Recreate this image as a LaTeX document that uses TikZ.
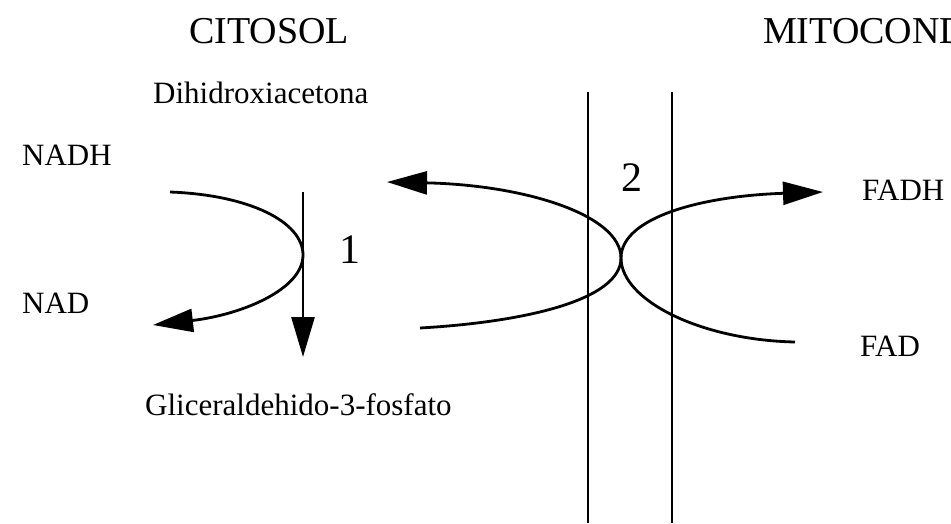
\documentclass[tikz,border=0pt]{standalone}
\usepackage{fontspec}
\setmainfont{Liberation Serif}
\usetikzlibrary{arrows.meta}
\begin{document}
\begin{tikzpicture}[x=1pt,y=-1pt,
  header/.style={inner sep=0pt,font=\fontsize{38}{40}\selectfont},
  lbl/.style={inner sep=0pt,font=\fontsize{31}{33}\selectfont},
  num/.style={inner sep=0pt,font=\fontsize{42}{44}\selectfont},
  rxn/.style={line width=2.8pt,-{Triangle[length=40pt,width=23pt]}},
  plain/.style={line width=2.8pt},
  memb/.style={line width=2pt}]
\useasboundingbox (0,0) rectangle (951,523);
\clip (0,0) rectangle (951,523);
% headers
\node[header] (cit) at (269,31) {CITOSOL};
\node[header,anchor=west] (mit) at (763,31) {MITOCONDRIA};
% labels
\node[lbl,anchor=west] (dha) at (153,93) {Dihidroxiacetona};
\node[lbl,anchor=west] (nadh) at (22,155) {NADH};
\node[lbl,anchor=west] (nad) at (22,303) {NAD};
\node[lbl,anchor=west] (g3p) at (145,405) {Gliceraldehido-3-fosfato};
\node[lbl,anchor=west] (fadh) at (862,190) {FADH};
\node[lbl,anchor=west] (fad) at (860,346) {FAD};
\node[num] (n1) at (350,250) {1};
\node[num] (n2) at (632,178) {2};
% membrane
\coordinate (m1t) at (588,92); \coordinate (m1b) at (588,523);
\coordinate (m2t) at (672,92); \coordinate (m2b) at (672,523);
\draw[memb] (m1t) -- (m1b);
\draw[memb] (m2t) -- (m2b);
% reaction 1
\coordinate (r1s) at (170,192);
\coordinate (r1v) at (303,255);
\coordinate (r1e) at (153,325);
\coordinate (v1s) at (303,192);
\coordinate (v1e) at (303,357);
\draw[rxn] (r1s) .. controls (250,195) and (303,222) .. (r1v)
  .. controls (303,290) and (240,315) .. (r1e);
\draw[rxn] (v1s) -- (v1e);
% reaction 2
\coordinate (l2s) at (420,328);
\coordinate (l2v) at (621,258);
\coordinate (l2e) at (387,182);
\draw[rxn] (l2s) .. controls (525,322) and (621,300) .. (l2v)
  .. controls (621,215) and (525,185) .. (l2e);
\coordinate (r2s) at (795,342);
\coordinate (r2e) at (823,192);
\draw[rxn] (r2s) .. controls (700,340) and (621,300) .. (l2v)
  .. controls (621,218) and (700,196) .. (r2e);
\end{tikzpicture}
\end{document}
